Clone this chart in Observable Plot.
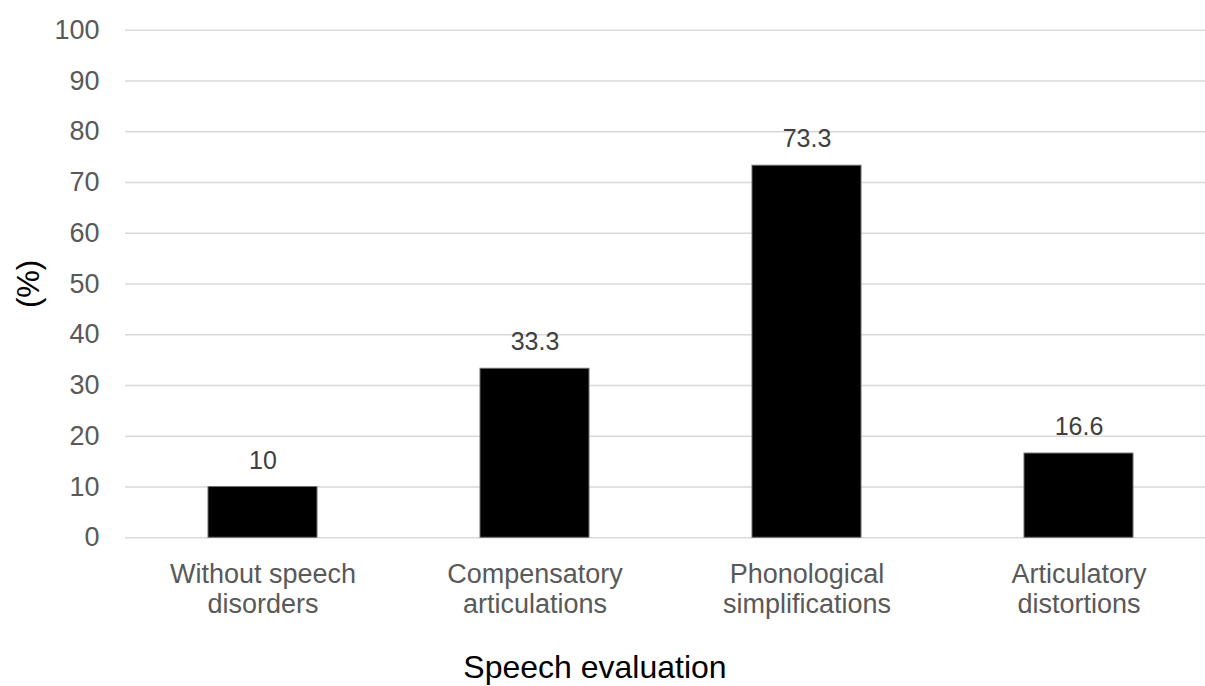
<!DOCTYPE html>
<html>
<head>
<meta charset="utf-8">
<script src="https://cdn.jsdelivr.net/npm/d3@7"></script>
<script src="https://cdn.jsdelivr.net/npm/@observablehq/plot@0.6"></script>
<style>
  html, body { margin: 0; padding: 0; background: #fff; }
  #wrap { position: relative; width: 1205px; height: 686px; overflow: hidden; }
  #xtitle { position: absolute; left: 0; top: 651px; width: 1190px; text-align: center;
            font-family: "Liberation Sans", Arial, sans-serif; font-size: 32px; line-height: 32px; color: #000; }
</style>
</head>
<body>
<div id="wrap"><div id="chart"></div><div id="xtitle">Speech evaluation</div></div>
<script>
const categories = ["Without speech disorders", "Compensatory articulations", "Phonological simplifications", "Articulatory distortions"];
const categoryLines = ["Without speech\ndisorders", "Compensatory\narticulations", "Phonological\nsimplifications", "Articulatory\ndistortions"];
const values = [10, 33.3, 73.3, 16.6];
const valueLabels = ["10", "33.3", "73.3", "16.6"];
const yTicks = [0, 10, 20, 30, 40, 50, 60, 70, 80, 90, 100];

const data = categories.map((c, i) => ({category: c, value: values[i], label: valueLabels[i]}));
const lineOf = new Map(categories.map((c, i) => [c, categoryLines[i]]));

const chart = Plot.plot({
  width: 1205,
  height: 686,
  marginTop: 29.7,
  marginBottom: 148.7,
  marginLeft: 125,
  marginRight: 0,
  style: {fontFamily: "'Liberation Sans', Arial, sans-serif", background: "#fff"},
  x: {domain: categories, range: [125, 1216], paddingInner: 0.6, paddingOuter: 0.3, axis: null},
  y: {domain: [0, 100], axis: null},
  marks: [
    Plot.ruleY(yTicks, {stroke: "#d9d9d9", strokeWidth: 1.5}),
    Plot.axisY({ticks: yTicks, tickSize: 0, tickPadding: 26, fontSize: 27, fill: "#595959", label: null}),
    Plot.barY(data, {x: "category", y: "value", fill: "#000", stroke: "#6e6e6e", strokeWidth: 1}),
    Plot.text(data, {x: "category", y: "value", text: "label", lineAnchor: "bottom", dy: -18.5, fontSize: 25, fill: "#404040"}),
    Plot.text(data, {x: "category", y: () => 0, text: d => lineOf.get(d.category), lineAnchor: "top", dy: 23.5, fontSize: 27, lineHeight: 1.11, fill: "#595959"}),
    Plot.text(["(%)"], {frameAnchor: "left", dx: -96, rotate: -90, textAnchor: "middle", lineAnchor: "middle", fontSize: 31, fill: "#000"})
  ]
});
document.getElementById("chart").appendChild(chart);
</script>
</body>
</html>
